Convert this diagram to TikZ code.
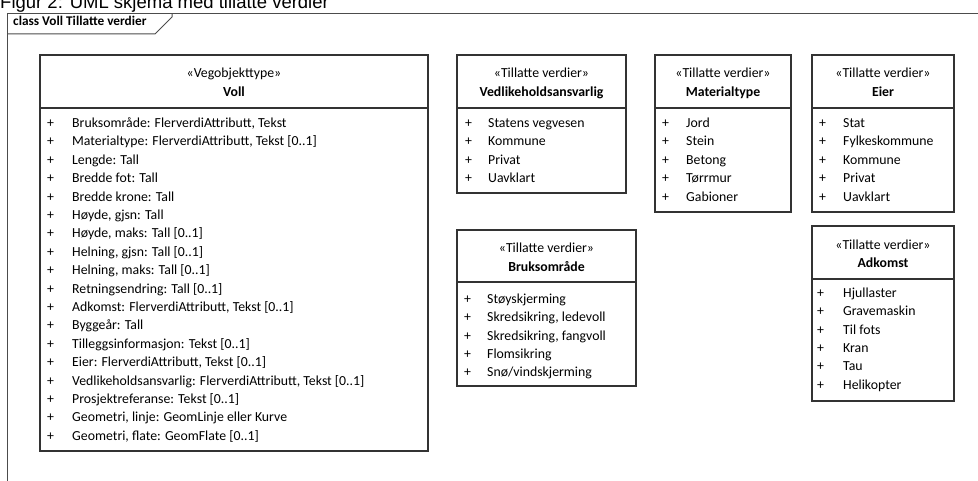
\documentclass[tikz,border=0pt]{standalone}
\usepackage{fontspec}
\setmainfont{Carlito}
\newfontfamily\capfont{Liberation Sans}
\begin{document}
\begin{tikzpicture}[x=1pt,y=-1pt,
  boxline/.style={draw=black!80, line width=1.3pt},
  frameline/.style={draw=black!70, line width=1pt},
  stereo/.style={inner sep=0pt, anchor=base, font=\fontsize{13.8}{16}\selectfont},
  title/.style={inner sep=0pt, anchor=base, font=\bfseries\fontsize{13.8}{16}\selectfont},
  item/.style={inner sep=0pt, anchor=base west, font=\fontsize{13.8}{16}\selectfont},
  plus/.style={inner sep=0pt, anchor=base west, font=\fontsize{13.8}{16}\selectfont},
  tabtext/.style={inner sep=0pt, anchor=base west, font=\bfseries\fontsize{13.3}{15}\selectfont}
]
\useasboundingbox (0,0) rectangle (978,481);
\begin{scope}
\clip (0,0) rectangle (978,481);
% caption (cut at top)
\node[inner sep=0pt, anchor=base west, font=\capfont\fontsize{18.5}{21}\selectfont] (caption) at (0,9) {Figur 2: UML skjema med tillatte verdier};
% frame
\draw[frameline] (7,490) -- (7,14) -- (990,14);
\draw[frameline] (7,34) -- (155,34) -- (172,17) -- (172,14);
\node[tabtext] (tab) at (13,26) {class Voll Tillatte verdier};
\end{scope}

% ---------- Voll ----------
\draw[boxline, fill=white] (40,55) rectangle (428,451);
\draw[boxline] (40,108) -- (428,108);
\node[stereo] (voll-st) at (234,78) {«Vegobjekttype»};
\node[title] (voll-ti) at (234,97) {Voll};
\foreach \t [count=\i from 0] in {
  {Bruksområde: FlerverdiAttributt, Tekst},
  {Materialtype: FlerverdiAttributt, Tekst [0..1]},
  {Lengde: Tall},
  {Bredde fot: Tall},
  {Bredde krone: Tall},
  {Høyde, gjsn: Tall},
  {Høyde, maks: Tall [0..1]},
  {Helning, gjsn: Tall [0..1]},
  {Helning, maks: Tall [0..1]},
  {Retningsendring: Tall [0..1]},
  {Adkomst: FlerverdiAttributt, Tekst [0..1]},
  {Byggeår: Tall},
  {Tilleggsinformasjon: Tekst [0..1]},
  {Eier: FlerverdiAttributt, Tekst [0..1]},
  {Vedlikeholdsansvarlig: FlerverdiAttributt, Tekst [0..1]},
  {Prosjektreferanse: Tekst [0..1]},
  {Geometri, linje: GeomLinje eller Kurve},
  {Geometri, flate: GeomFlate [0..1]}} {
  \node[plus] (voll-p\i) at (47,127.5+18.4*\i) {+};
  \node[item] (voll-a\i) at (72,127.5+18.4*\i) {\t};
}

% ---------- Vedlikeholdsansvarlig ----------
\draw[boxline, fill=white] (457,55) rectangle (626,193);
\draw[boxline] (457,108) -- (626,108);
\node[stereo] (ved-st) at (541.5,78) {«Tillatte verdier»};
\node[title] (ved-ti) at (541.5,97) {Vedlikeholdsansvarlig};
\foreach \t [count=\i from 0] in {Statens vegvesen, Kommune, Privat, Uavklart} {
  \node[plus] (ved-p\i) at (465,127.5+18.4*\i) {+};
  \node[item] (ved-a\i) at (488,127.5+18.4*\i) {\t};
}

% ---------- Materialtype ----------
\draw[boxline, fill=white] (655,55) rectangle (791,212);
\draw[boxline] (655,108) -- (791,108);
\node[stereo] (mat-st) at (723,78) {«Tillatte verdier»};
\node[title] (mat-ti) at (723,97) {Materialtype};
\foreach \t [count=\i from 0] in {Jord, Stein, Betong, Tørrmur, Gabioner} {
  \node[plus] (mat-p\i) at (662,127.5+18.4*\i) {+};
  \node[item] (mat-a\i) at (686,127.5+18.4*\i) {\t};
}

% ---------- Eier ----------
\draw[boxline, fill=white] (812,55) rectangle (954,212);
\draw[boxline] (812,108) -- (954,108);
\node[stereo] (eier-st) at (883,78) {«Tillatte verdier»};
\node[title] (eier-ti) at (883,97) {Eier};
\foreach \t [count=\i from 0] in {Stat, Fylkeskommune, Kommune, Privat, Uavklart} {
  \node[plus] (eier-p\i) at (819,127.5+18.4*\i) {+};
  \node[item] (eier-a\i) at (843,127.5+18.4*\i) {\t};
}

% ---------- Bruksområde ----------
\draw[boxline, fill=white] (457,230) rectangle (636,386);
\draw[boxline] (457,282) -- (636,282);
\node[stereo] (bruk-st) at (546.5,253) {«Tillatte verdier»};
\node[title] (bruk-ti) at (546.5,272) {Bruksområde};
\foreach \t [count=\i from 0] in {Støyskjerming, {Skredsikring, ledevoll}, {Skredsikring, fangvoll}, Flomsikring, Snø/vindskjerming} {
  \node[plus] (bruk-p\i) at (464,303.5+18.3*\i) {+};
  \node[item] (bruk-a\i) at (487,303.5+18.3*\i) {\t};
}

% ---------- Adkomst ----------
\draw[boxline, fill=white] (812,226) rectangle (954,401);
\draw[boxline] (812,279) -- (954,279);
\node[stereo] (adk-st) at (883,250) {«Tillatte verdier»};
\node[title] (adk-ti) at (883,268) {Adkomst};
\foreach \t [count=\i from 0] in {Hjullaster, Gravemaskin, Til fots, Kran, Tau, Helikopter} {
  \node[plus] (adk-p\i) at (817,297.5+18.3*\i) {+};
  \node[item] (adk-a\i) at (843,297.5+18.3*\i) {\t};
}
\end{tikzpicture}
\end{document}
